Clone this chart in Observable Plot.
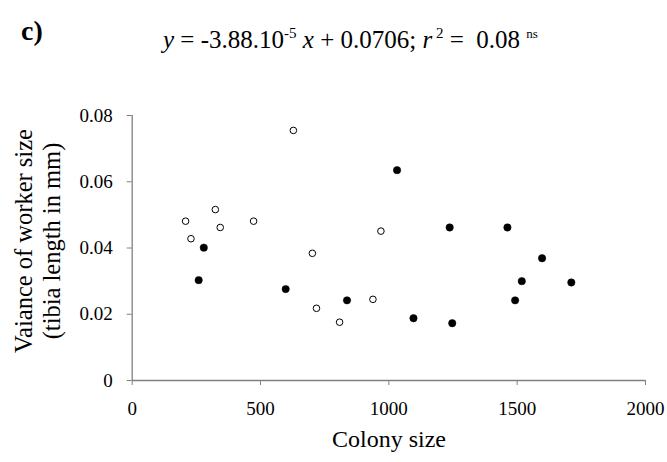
<!DOCTYPE html>
<html>
<head>
<meta charset="utf-8">
<script src="https://cdn.jsdelivr.net/npm/d3@7"></script>
<script src="https://cdn.jsdelivr.net/npm/@observablehq/plot@0.6"></script>
<style>
  html, body { margin: 0; padding: 0; background: #fff; }
  #wrap { position: relative; width: 667px; height: 462px; font-family: "Liberation Serif", "Times New Roman", serif; color: #000; overflow: hidden; }
  #chart { position: absolute; left: 0; top: 0; }
  #chart svg, #chart svg text { font-family: "Liberation Serif", "Times New Roman", serif !important; }
  #chart svg text { font-size: 19px !important; }
  .lbl { position: absolute; white-space: nowrap; font-family: "Liberation Serif", "Times New Roman", serif; }
  #panel { left: 21px; top: 15px; font-size: 28px; font-weight: bold; }
  #eq { left: 163px; top: 26px; font-size: 25px; }
  #eq sup { font-size: 15px; vertical-align: 0; position: relative; top: -10px; }
  #eq sup.ns { font-size: 13px; }
  #ytitle { left: 38px; top: 241px; font-size: 24.5px; text-align: center; transform: translate(-50%, -50%) rotate(-90deg); }
  #xtitle { left: 389px; top: 426px; font-size: 24px; transform: translateX(-50%); }
</style>
</head>
<body>
<div id="wrap">
  <div id="chart"></div>
  <div class="lbl" id="panel">c)</div>
  <div class="lbl" id="eq"><i>y</i> = -3.88.10<sup>-5</sup> <i>x</i> + 0.0706; <i>r</i><sup>&nbsp;2</sup> = &nbsp;0.08 <sup class="ns">ns</sup></div>
  <div class="lbl" id="ytitle">Vaiance of worker size<br>(tibia length in mm)</div>
  <div class="lbl" id="xtitle">Colony size</div>
</div>
<script>
// Open circles
const openX = [208, 229, 324, 343, 473, 628, 702, 718, 808, 938, 969];
const openY = [0.0481, 0.0428, 0.0516, 0.0462, 0.0481, 0.0755, 0.0384, 0.0218, 0.0176, 0.0245, 0.0451];
// Filled circles
const filledX = [259, 279, 598, 837, 1032, 1096, 1237, 1247, 1462, 1492, 1518, 1597, 1711];
const filledY = [0.0303, 0.0401, 0.0276, 0.0242, 0.0635, 0.0188, 0.0462, 0.0173, 0.0462, 0.0242, 0.0300, 0.0369, 0.0296];
const xTicks = [0, 500, 1000, 1500, 2000];
const yTicks = [0, 0.02, 0.04, 0.06, 0.08];

const openData = openX.map((x, i) => ({x, y: openY[i]}));
const filledData = filledX.map((x, i) => ({x, y: filledY[i]}));

const axisColor = "#808080";
const serif = "Liberation Serif";
const chart = Plot.plot({
  width: 667,
  height: 462,
  marginLeft: 131.7,
  marginRight: 22,
  marginTop: 115,
  marginBottom: 82,
  style: { fontFamily: "'Liberation Serif', 'Times New Roman', serif", background: "white", color: "black" },
  x: { domain: [0, 2000], axis: null },
  y: { domain: [0, 0.08], axis: null },
  marks: [
    Plot.ruleY([0], { stroke: axisColor, strokeWidth: 1.3 }),
    Plot.ruleX([0], { stroke: axisColor, strokeWidth: 1.3 }),
    Plot.axisX({ ticks: xTicks, tickFormat: d => String(d), tickSize: 5, tickPadding: 16, fontSize: 19, fontFamily: serif, stroke: axisColor, color: "black", label: null }),
    Plot.axisY({ ticks: yTicks, tickFormat: d => String(d), tickSize: 5, tickPadding: 14.5, fontSize: 19, fontFamily: serif, stroke: axisColor, color: "black", label: null }),
    Plot.dot(openData, { x: "x", y: "y", r: 3.3, fill: "white", stroke: "black", strokeWidth: 1 }),
    Plot.dot(filledData, { x: "x", y: "y", r: 3.7, fill: "black", stroke: "black", strokeWidth: 0.5 })
  ]
});
document.getElementById("chart").appendChild(chart);
</script>
</body>
</html>
